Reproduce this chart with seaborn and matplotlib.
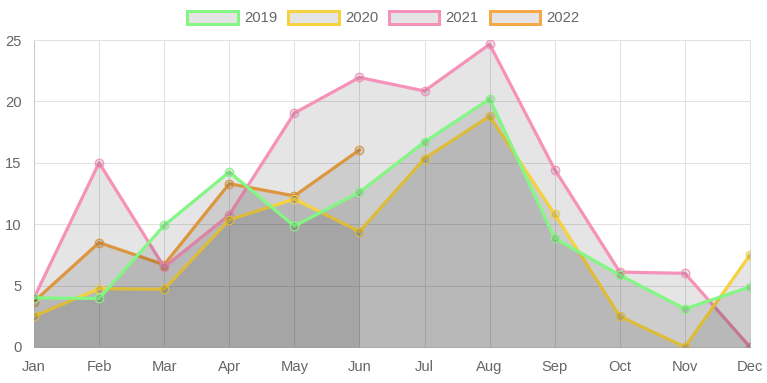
import numpy as np
import pandas as pd
import matplotlib
matplotlib.use("Agg")
import matplotlib.pyplot as plt
import seaborn as sns
from matplotlib.patches import Patch

# data
months = ["Jan", "Feb", "Mar", "Apr", "May", "Jun",
          "Jul", "Aug", "Sep", "Oct", "Nov", "Dec"]
sales_2019 = [4.0, 3.95, 9.9, 14.25, 9.85, 12.6, 16.7, 20.2, 8.85, 5.85, 3.1, 4.9]
sales_2020 = [2.5, 4.75, 4.7, 10.35, 12.05, 9.4, 15.35, 18.8, 10.8, 2.5, 0.0, 7.5]
sales_2021 = [4.0, 15.0, 6.5, 10.75, 19.05, 21.95, 20.85, 24.65, 14.45, 6.1, 6.0, 0.0]
sales_2022 = [3.7, 8.5, 6.7, 13.3, 12.3, 16.05]

years = ["2019", "2020", "2021", "2022"]
series = [sales_2019, sales_2020, sales_2021, sales_2022]
colors = ["#84f684", "#f6d23f", "#f692b9", "#f6a847"]

sns.set_style("white")
plt.rcParams["font.family"] = ["Liberation Sans", "DejaVu Sans"]

fig = plt.figure(figsize=(7.67, 3.83), dpi=100)
ax = fig.add_axes([34 / 767, 36 / 383, 716 / 767, 307 / 383])

px = 72 / 100  # one pixel in points
fs = 14.8 * px
fill_rgba = (0, 0, 0, 0.1)

# Chart.js draws the last dataset first: fill, then line
n = len(series)
for i in reversed(range(n)):
    vals = series[i]
    df = pd.DataFrame({"x": np.arange(len(vals)), "y": vals})
    z = 2 + (n - i) * 2
    ax.fill_between(df["x"], 0, df["y"], color=fill_rgba, lw=0, zorder=z)
    sns.lineplot(data=df, x="x", y="y", ax=ax, color=colors[i], lw=3.2 * px,
                 marker="o", markersize=8.5 * px, markerfacecolor=fill_rgba,
                 markeredgecolor=colors[i], markeredgewidth=1.2 * px,
                 zorder=z + 1)

ax.set_xlim(0, len(months) - 1)
ax.set_ylim(0, 25)
ax.set_xticks(range(len(months)))
ax.set_xticklabels(months)
ax.set_yticks(range(0, 26, 5))
ax.set_xlabel("")
ax.set_ylabel("")

grid_c = "#e1e1e1"
ax.grid(True, color=grid_c, lw=1 * px, zorder=0)
ax.set_axisbelow(True)
ax.tick_params(axis="both", colors=grid_c, length=9 * px, width=1 * px,
               labelcolor="#666666", labelsize=fs)
ax.tick_params(axis="x", pad=3)
ax.tick_params(axis="y", pad=2.5)
for side in ["top", "right"]:
    ax.spines[side].set_color(grid_c)
    ax.spines[side].set_linewidth(1 * px)
for side in ["left", "bottom"]:
    ax.spines[side].set_color("#c8c8c8")
    ax.spines[side].set_linewidth(1 * px)

handles = [Patch(facecolor="#e4e4e4", edgecolor=c, linewidth=3 * px, label=y)
           for y, c in zip(years, colors)]
fig.legend(handles=handles, loc="center", bbox_to_anchor=(0.5, 1 - 18 / 383),
           ncol=4, frameon=False, fontsize=fs, labelcolor="#666666",
           handlelength=3.4, handleheight=0.95, handletextpad=0.42,
           columnspacing=0.75, borderaxespad=0)

fig.savefig("out.png", dpi=100)
